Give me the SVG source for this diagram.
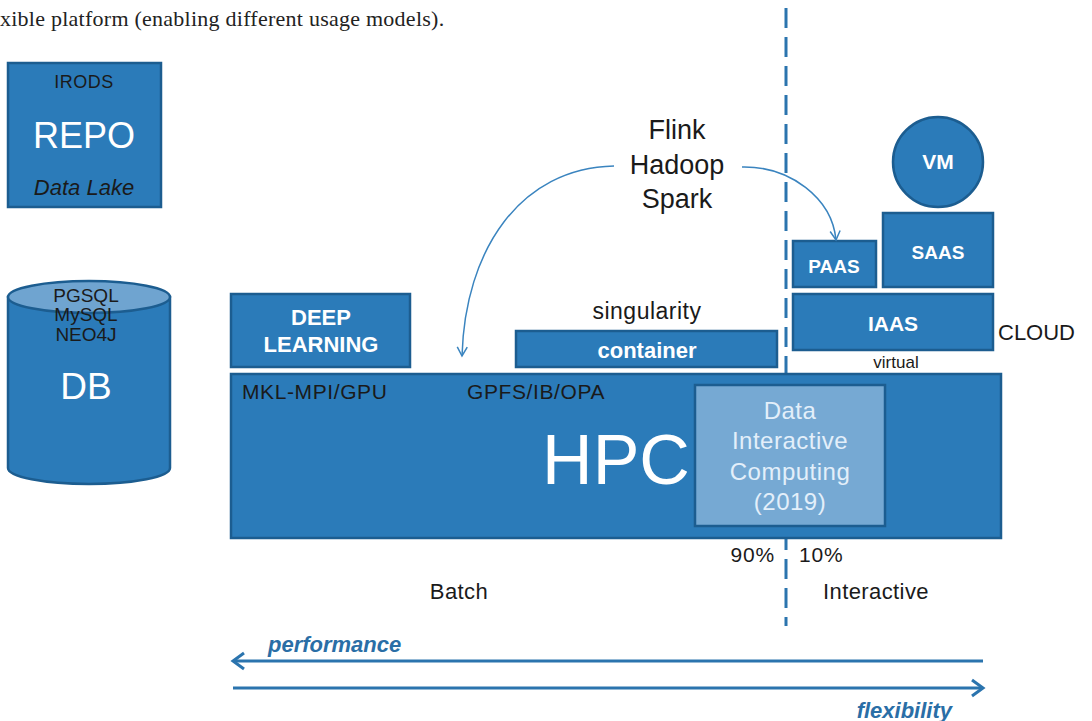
<svg xmlns="http://www.w3.org/2000/svg" width="1092" height="721" viewBox="0 0 1092 721">
<style>
.box{fill:#2b7bb9;stroke:#1c5d90;stroke-width:2.5}
.lt{fill:#76a9d3;stroke:#1c5d90;stroke-width:2.5}
.s{font-family:"Liberation Sans",Arial,sans-serif}
.dk{fill:#1a1a1a}
.wb{fill:#ffffff;font-weight:bold}
.w{fill:#ffffff}
.lbl{fill:#2a6ea6;font-weight:bold;font-style:italic}
.con{fill:none;stroke:#3a84bf;stroke-width:1.5}
</style>
<defs>
<marker id="ah" markerWidth="12" markerHeight="12" refX="10" refY="6" orient="auto" markerUnits="userSpaceOnUse">
<path d="M1,1 L10,6 L1,11" fill="none" stroke="#3a84bf" stroke-width="1.5"/>
</marker>
<marker id="bh" markerWidth="16" markerHeight="20" refX="13" refY="10" orient="auto" markerUnits="userSpaceOnUse">
<path d="M2,2 L13,10 L2,18" fill="none" stroke="#2b74ae" stroke-width="3"/>
</marker>
</defs>
<rect width="1092" height="721" fill="#ffffff"/>
<text x="0" y="26" font-family="Liberation Serif,serif" font-size="22" letter-spacing="0.25" fill="#222">xible platform (enabling different usage models).</text>

<g id="divider">
<line x1="786" y1="8" x2="786" y2="626" stroke="#2b74ae" stroke-width="3" stroke-dasharray="20,9"/>
</g>

<g id="repo">
<rect class="box" x="8" y="63" width="153" height="144"/>
<text class="s dk" x="84" y="88" font-size="18" text-anchor="middle" letter-spacing="0.5">IRODS</text>
<text class="s w" x="84" y="148" font-size="36" text-anchor="middle">REPO</text>
<text class="s dk" x="84" y="195" font-size="22" font-style="italic" text-anchor="middle">Data Lake</text>
</g>

<g id="db">
<path d="M8,297 L8,468 A81,16 0 0 0 170,468 L170,297 Z" fill="#2b7bb9" stroke="#1c5d90" stroke-width="2.5"/>
<ellipse cx="89" cy="297" rx="81" ry="16" fill="#6fa4d0" stroke="#1c5d90" stroke-width="2.5"/>
<text class="s dk" x="86" y="302" font-size="19" text-anchor="middle">PGSQL</text>
<text class="s dk" x="86" y="321" font-size="19" text-anchor="middle">MySQL</text>
<text class="s dk" x="86" y="341" font-size="19" text-anchor="middle">NEO4J</text>
<text class="s w" x="86" y="399" font-size="37" text-anchor="middle">DB</text>
</g>

<g id="deep-learning">
<rect class="box" x="231" y="294" width="179" height="73"/>
<text class="s wb" x="321" y="325" font-size="22" text-anchor="middle">DEEP</text>
<text class="s wb" x="321" y="352" font-size="22" text-anchor="middle">LEARNING</text>
</g>

<g id="container">
<text class="s dk" x="647" y="319" font-size="23" text-anchor="middle" letter-spacing="0.5">singularity</text>
<rect class="box" x="516" y="331" width="261" height="36"/>
<text class="s wb" x="647" y="358" font-size="22" text-anchor="middle">container</text>
</g>

<g id="hpc">
<rect class="box" x="231" y="374" width="770" height="164"/>
<text class="s dk" x="242" y="399" font-size="21" letter-spacing="0.6">MKL-MPI/GPU</text>
<text class="s dk" x="467" y="399" font-size="21" letter-spacing="0.6">GPFS/IB/OPA</text>
<text class="s w" x="616" y="484" font-size="70" text-anchor="middle">HPC</text>
</g>

<g id="dic">
<rect class="lt" x="695" y="385" width="190" height="141"/>
<g class="s" fill="#e3effa" font-size="24" text-anchor="middle" letter-spacing="0.5">
<text x="790" y="419">Data</text>
<text x="790" y="449">Interactive</text>
<text x="790" y="480">Computing</text>
<text x="790" y="510">(2019)</text>
</g>
</g>

<g id="vm">
<circle cx="938" cy="162" r="45" fill="#2b7bb9" stroke="#1c5d90" stroke-width="2.5"/>
<text class="s wb" x="938" y="169" font-size="21" text-anchor="middle">VM</text>
</g>

<g id="paas">
<rect class="box" x="793" y="241" width="83" height="46"/>
<text class="s wb" x="834" y="273" font-size="19" text-anchor="middle">PAAS</text>
</g>

<g id="saas">
<rect class="box" x="883" y="213" width="110" height="74"/>
<text class="s wb" x="938" y="259" font-size="19" text-anchor="middle">SAAS</text>
</g>

<g id="iaas">
<rect class="box" x="793" y="294" width="200" height="56"/>
<text class="s wb" x="893" y="331" font-size="21" text-anchor="middle">IAAS</text>
<text class="s dk" x="998" y="340" font-size="22">CLOUD</text>
<text class="s dk" x="896" y="368" font-size="17" text-anchor="middle">virtual</text>
</g>

<g id="frameworks">
<text class="s dk" x="677" y="139" font-size="27" text-anchor="middle">Flink</text>
<text class="s dk" x="677" y="174" font-size="27" text-anchor="middle">Hadoop</text>
<text class="s dk" x="677" y="208" font-size="27" text-anchor="middle">Spark</text>
</g>

<g id="labels" class="s dk">
<text x="775" y="562" font-size="21" text-anchor="end" letter-spacing="0.8">90%</text>
<text x="799" y="562" font-size="21" letter-spacing="0.8">10%</text>
<text x="459" y="599" font-size="22" text-anchor="middle" letter-spacing="0.4">Batch</text>
<text x="876" y="599" font-size="22" text-anchor="middle" letter-spacing="0.4">Interactive</text>
<text class="lbl" x="268" y="652" font-size="22">performance</text>
<text class="lbl" x="952" y="718" font-size="22" text-anchor="end">flexibility</text>
</g>

<g id="connectors">
<path class="con" d="M614,166 C520,168 465,250 462,356" marker-end="url(#ah)"/>
<path class="con" d="M742,167 C790,166 832,198 836,240" marker-end="url(#ah)"/>
<line x1="983" y1="661" x2="233" y2="661" stroke="#2b74ae" stroke-width="3" marker-end="url(#bh)"/>
<line x1="233" y1="688" x2="983" y2="688" stroke="#2b74ae" stroke-width="3" marker-end="url(#bh)"/>
</g>
</svg>
